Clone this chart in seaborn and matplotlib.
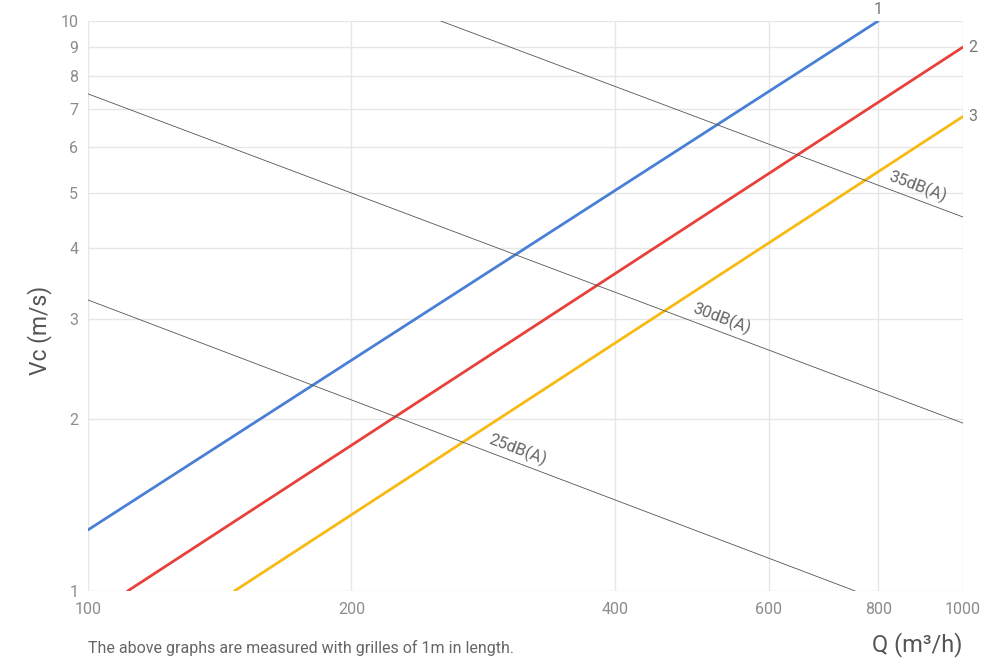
import numpy as np
import pandas as pd
import matplotlib
matplotlib.use("Agg")
import matplotlib.pyplot as plt
import seaborn as sns

# Series (endpoints, log-log straight lines)
series_names = ["1", "2", "3"]
q_1 = [100, 800]
v_1 = [1.28, 10.0]
q_2 = [111, 1000]
v_2 = [1.0, 9.0]
q_3 = [147, 1000]
v_3 = [1.0, 6.8]

# Noise iso-lines
noise_labels = ["25dB(A)", "30dB(A)", "35dB(A)"]
q_25 = [100, 753]
v_25 = [3.24, 1.0]
q_30 = [100, 1000]
v_30 = [7.45, 1.97]
q_35 = [253, 1000]
v_35 = [10.0, 4.53]
noise_label_q = [307, 525, 880]

x_ticks = [100, 200, 400, 600, 800, 1000]
y_ticks = [1, 2, 3, 4, 5, 6, 7, 8, 9, 10]

sns.set_style("white")
plt.rcParams['font.family'] = ['Roboto', 'DejaVu Sans']

fig = plt.figure(figsize=(10.01, 6.59), dpi=100)
ax = fig.add_axes([88/1001, 1-591/659, (963-88)/1001, (591-21)/659])

colors = ["#4a7fd6", "#e8403a", "#f8b912"]
for q, v, c in zip([q_1, q_2, q_3], [v_1, v_2, v_3], colors):
    df = pd.DataFrame({"Q": q, "V": v})
    sns.lineplot(data=df, x="Q", y="V", ax=ax, color=c, linewidth=2.0)

noise_q = [q_25, q_30, q_35]
noise_v = [v_25, v_30, v_35]
for q, v in zip(noise_q, noise_v):
    df = pd.DataFrame({"Q": q, "V": v})
    sns.lineplot(data=df, x="Q", y="V", ax=ax, color="#555555", linewidth=0.6)

ax.set_xscale("log")
ax.set_yscale("log")
ax.set_xlim(100, 1000)
ax.set_ylim(1, 10)
ax.set_xticks(x_ticks)
ax.set_xticklabels([str(t) for t in x_ticks])
ax.set_yticks(y_ticks)
ax.set_yticklabels([str(t) for t in y_ticks])
ax.minorticks_off()
ax.tick_params(axis="both", length=0, labelsize=11.5, labelcolor="#8c8c8c")
ax.tick_params(axis="x", pad=8)
ax.tick_params(axis="y", pad=7)
ax.grid(True, color="#e6e6e6", linewidth=1.0)
ax.set_axisbelow(True)
for s in ax.spines.values():
    s.set_visible(False)
ax.set_xlabel("")
ax.set_ylabel("")

# noise labels rotated along lines
for q, v, lab, lq in zip(noise_q, noise_v, noise_labels, noise_label_q):
    lv = 10 ** np.interp(np.log10(lq), np.log10(q), np.log10(v))
    p1 = ax.transData.transform((q[0], v[0]))
    p2 = ax.transData.transform((q[1], v[1]))
    ang = np.degrees(np.arctan2(p2[1]-p1[1], p2[0]-p1[0]))
    ax.annotate(lab, (lq, lv), xytext=(0, 3), textcoords="offset points",
                rotation=ang, rotation_mode="anchor", ha="center", va="bottom",
                fontsize=12, color="#666666")

# series labels
for q, v, name in zip([q_1, q_2, q_3], [v_1, v_2, v_3], series_names):
    if name == "1":
        ax.annotate(name, (q[1], v[1]), xytext=(0, 3), textcoords="offset points",
                    ha="center", va="bottom", fontsize=11.5, color="#777777",
                    annotation_clip=False)
    else:
        ax.annotate(name, (q[1], v[1]), xytext=(4, 0), textcoords="offset points",
                    ha="left", va="center", fontsize=11.5, color="#777777",
                    annotation_clip=False)

fig.text(40/1001, 1-330/659, "Vc (m/s)", rotation=90, ha="center", va="center",
         fontsize=16.5, color="#555555")
fig.text(917/1001, 1-645/659, "Q (m³/h)", ha="center", va="center",
         fontsize=17, color="#555555")
fig.text(88/1001, 1-648/659, "The above graphs are measured with grilles of 1m in length.",
         ha="left", va="center", fontsize=11.5, color="#666666")

fig.savefig("out.png", dpi=100)
